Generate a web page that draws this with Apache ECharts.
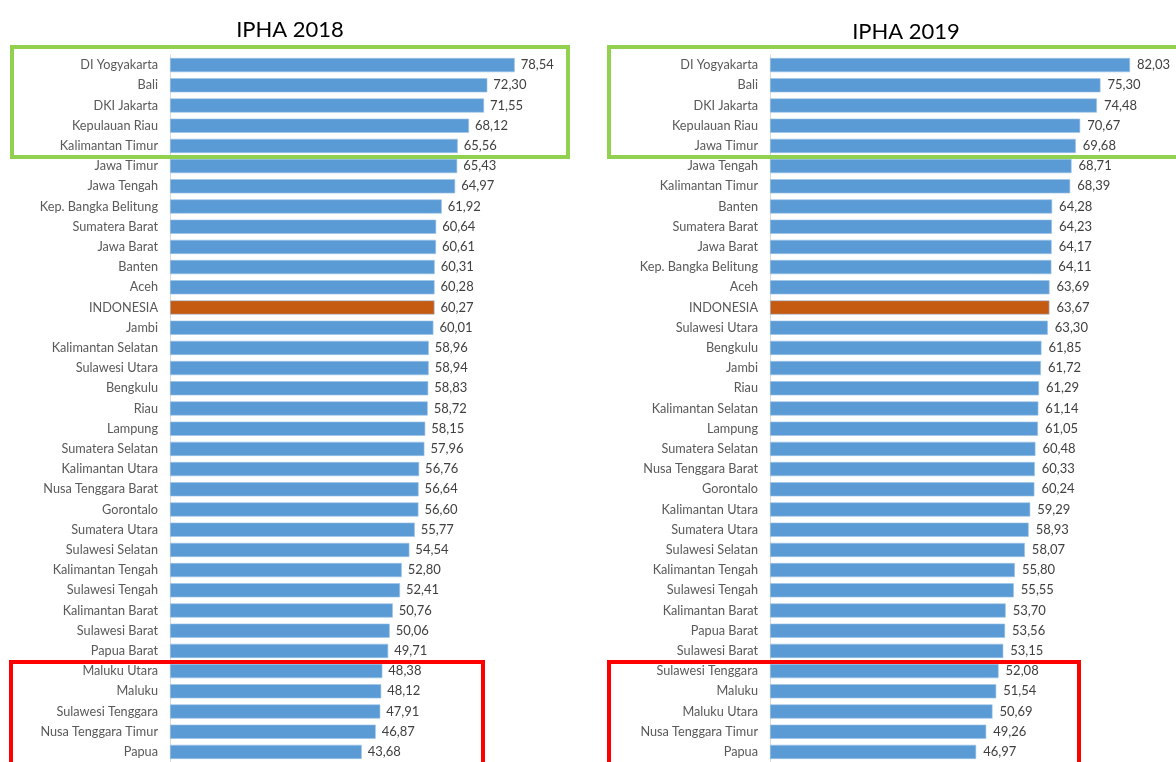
<!DOCTYPE html>
<html>
<head>
<meta charset="utf-8">
<title>IPHA 2018 / 2019</title>
<script src="https://cdn.jsdelivr.net/npm/echarts@6/dist/echarts.min.js"></script>
<style>
  html, body { margin: 0; padding: 0; background: #fff; }
  #chart { width: 1176px; height: 762px; }
</style>
</head>
<body>
<div id="chart"></div>
<script>
// IPHA 2018, sorted as in the picture
var provinces2018 = [
    'DI Yogyakarta', 'Bali', 'DKI Jakarta', 'Kepulauan Riau', 'Kalimantan Timur',
    'Jawa Timur', 'Jawa Tengah', 'Kep. Bangka Belitung', 'Sumatera Barat', 'Jawa Barat',
    'Banten', 'Aceh', 'INDONESIA', 'Jambi', 'Kalimantan Selatan',
    'Sulawesi Utara', 'Bengkulu', 'Riau', 'Lampung', 'Sumatera Selatan',
    'Kalimantan Utara', 'Nusa Tenggara Barat', 'Gorontalo', 'Sumatera Utara', 'Sulawesi Selatan',
    'Kalimantan Tengah', 'Sulawesi Tengah', 'Kalimantan Barat', 'Sulawesi Barat', 'Papua Barat',
    'Maluku Utara', 'Maluku', 'Sulawesi Tenggara', 'Nusa Tenggara Timur', 'Papua'
];
var values2018 = [
    78.54, 72.30, 71.55, 68.12, 65.56,
    65.43, 64.97, 61.92, 60.64, 60.61,
    60.31, 60.28, 60.27, 60.01, 58.96,
    58.94, 58.83, 58.72, 58.15, 57.96,
    56.76, 56.64, 56.60, 55.77, 54.54,
    52.80, 52.41, 50.76, 50.06, 49.71,
    48.38, 48.12, 47.91, 46.87, 43.68
];

// IPHA 2019
var provinces2019 = [
    'DI Yogyakarta', 'Bali', 'DKI Jakarta', 'Kepulauan Riau', 'Jawa Timur',
    'Jawa Tengah', 'Kalimantan Timur', 'Banten', 'Sumatera Barat', 'Jawa Barat',
    'Kep. Bangka Belitung', 'Aceh', 'INDONESIA', 'Sulawesi Utara', 'Bengkulu',
    'Jambi', 'Riau', 'Kalimantan Selatan', 'Lampung', 'Sumatera Selatan',
    'Nusa Tenggara Barat', 'Gorontalo', 'Kalimantan Utara', 'Sumatera Utara', 'Sulawesi Selatan',
    'Kalimantan Tengah', 'Sulawesi Tengah', 'Kalimantan Barat', 'Papua Barat', 'Sulawesi Barat',
    'Sulawesi Tenggara', 'Maluku', 'Maluku Utara', 'Nusa Tenggara Timur', 'Papua'
];
var values2019 = [
    82.03, 75.30, 74.48, 70.67, 69.68,
    68.71, 68.39, 64.28, 64.23, 64.17,
    64.11, 63.69, 63.67, 63.30, 61.85,
    61.72, 61.29, 61.14, 61.05, 60.48,
    60.33, 60.24, 59.29, 58.93, 58.07,
    55.80, 55.55, 53.70, 53.56, 53.15,
    52.08, 51.54, 50.69, 49.26, 46.97
];

var titles = ['IPHA 2018', 'IPHA 2019'];

var barBlue = '#5b9bd5';
var barNational = '#c55a11';
var fontName = 'Lato';

function barData(_names, _values) {
    var out = [];
    for (var i = 0; i < _values.length; i++) {
        out.push({
            value: _values[i],
            itemStyle: { color: _names[i] == 'INDONESIA' ? barNational : barBlue }
        });
    }
    return out;
}

function commaDecimal(v) {
    return v.toFixed(2).replace('.', ',');
}

var chartEl = document.getElementById('chart');
var myChart = echarts.init(chartEl);

var gridLeft = [170, 770];

var option = {
    backgroundColor: '#ffffff',
    animation: false,
    textStyle: { fontFamily: fontName },
    title: [
        {
            text: titles[0], left: 285, top: 14, textAlign: 'center',
            textStyle: { fontFamily: fontName, fontSize: 22, fontWeight: 'normal', color: '#000000' }
        },
        {
            text: titles[1], left: 901, top: 16, textAlign: 'center',
            textStyle: { fontFamily: fontName, fontSize: 22, fontWeight: 'normal', color: '#000000' }
        }
    ],
    grid: [
        { left: gridLeft[0], top: 55, width: 395, height: 708 },
        { left: gridLeft[1], top: 55, width: 395, height: 708 }
    ],
    xAxis: [
        { gridIndex: 0, type: 'value', min: 0, max: 90, show: false },
        { gridIndex: 1, type: 'value', min: 0, max: 90, show: false }
    ],
    yAxis: [
        {
            gridIndex: 0, type: 'category', inverse: true, data: provinces2018,
            axisTick: { show: false },
            axisLine: { lineStyle: { color: '#d9d9d9' } },
            axisLabel: { margin: 12, fontSize: 12.7, color: '#595959', fontFamily: fontName, interval: 0 }
        },
        {
            gridIndex: 1, type: 'category', inverse: true, data: provinces2019,
            axisTick: { show: false },
            axisLine: { lineStyle: { color: '#d9d9d9' } },
            axisLabel: { margin: 12, fontSize: 12.7, color: '#595959', fontFamily: fontName, interval: 0 }
        }
    ],
    series: [
        {
            name: titles[0], type: 'bar', xAxisIndex: 0, yAxisIndex: 0,
            data: barData(provinces2018, values2018),
            barCategoryGap: '30%',
            itemStyle: { borderColor: '#9cc2e5', borderWidth: 0.6 },
            label: {
                show: true, position: 'right', distance: 6,
                fontSize: 13, color: '#404040', fontFamily: fontName,
                formatter: function (p) { return commaDecimal(p.value); }
            }
        },
        {
            name: titles[1], type: 'bar', xAxisIndex: 1, yAxisIndex: 1,
            data: barData(provinces2019, values2019),
            barCategoryGap: '30%',
            itemStyle: { borderColor: '#9cc2e5', borderWidth: 0.6 },
            label: {
                show: true, position: 'right', distance: 7,
                fontSize: 13, color: '#404040', fontFamily: fontName,
                formatter: function (p) { return commaDecimal(p.value); }
            }
        }
    ],
    // highlight boxes: top five (green) and bottom five (red)
    graphic: [
        { type: 'rect', shape: { x: 12, y: 47, width: 556, height: 110 }, style: { fill: 'none', stroke: '#92d050', lineWidth: 4 }, z: 100 },
        { type: 'rect', shape: { x: 11, y: 662, width: 472, height: 120 }, style: { fill: 'none', stroke: '#ff0000', lineWidth: 4 }, z: 100 },
        { type: 'rect', shape: { x: 609, y: 47, width: 600, height: 110 }, style: { fill: 'none', stroke: '#92d050', lineWidth: 4 }, z: 100 },
        { type: 'rect', shape: { x: 609, y: 662, width: 470, height: 120 }, style: { fill: 'none', stroke: '#ff0000', lineWidth: 4 }, z: 100 }
    ]
};

myChart.setOption(option);
</script>
</body>
</html>
